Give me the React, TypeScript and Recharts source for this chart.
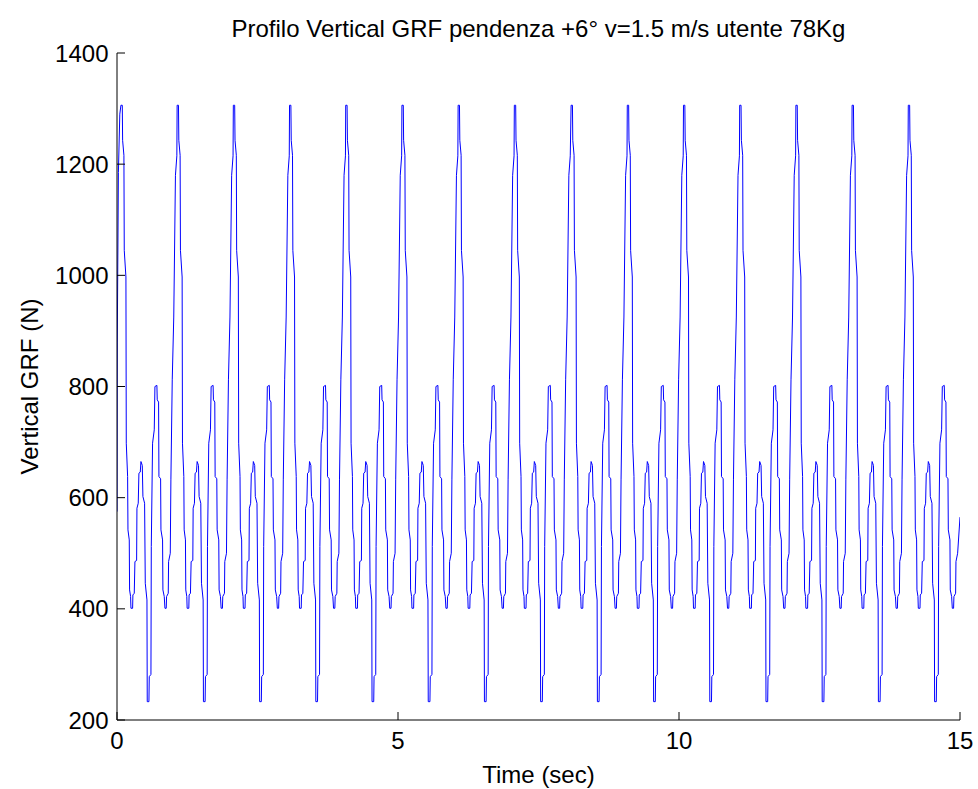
import React from 'react';
import { Line, LineChart, XAxis, YAxis } from 'recharts';

// one stride: seconds after the heel-strike peak, force (N)
const strideOffset = [
    0.0, 0.024, 0.03, 0.053, 0.059, 0.089, 0.095, 0.119, 0.125, 0.148,
    0.154, 0.172, 0.178, 0.208, 0.213, 0.237, 0.249, 0.279, 0.285, 0.308,
    0.32, 0.344, 0.356, 0.38, 0.391, 0.421, 0.433, 0.463, 0.468, 0.498,
    0.504, 0.534, 0.54, 0.563, 0.593, 0.605, 0.64, 0.646, 0.67, 0.676,
    0.706, 0.712, 0.741, 0.747, 0.771, 0.783, 0.806, 0.812, 0.842, 0.848,
    0.878, 0.889, 0.913, 0.94, 0.97, 0.995,
];
const strideForce = [
    1306, 1306, 1243, 1216, 1045, 997, 698, 638, 542, 524,
    434, 422, 401, 401, 425, 428, 485, 487, 581, 590,
    644, 646, 665, 658, 602, 590, 446, 416, 233, 233,
    278, 282, 512, 698, 722, 800, 802, 776, 772, 638,
    634, 542, 524, 434, 422, 401, 401, 422, 428, 485,
    500, 632, 812, 925, 1180, 1215,
];

// time of each tall peak
const strideStart = [0.07, 1.07, 2.07, 3.07, 4.07, 5.07, 6.07, 7.07, 8.08, 9.08, 10.08, 11.08, 12.08, 13.08, 14.08];

// partial stride before the first peak and after the last one
const leadTime = [0, 0.005, 0.025, 0.05];
const leadForce = [575, 880, 1185, 1290];
const tailTime = [15];
const tailForce = [565];

const xTicks = [0, 5, 10, 15];
const yTicks = [200, 400, 600, 800, 1000, 1200, 1400];

const FONT = '"Liberation Sans", Arial, Helvetica, sans-serif';
const FS = 24;
const TM = 8; // tick margin
const TL = 8; // inward tick length

const series: { t: number; f: number }[] = [];
leadTime.forEach((t, i) => series.push({ t, f: leadForce[i] }));
strideStart.forEach((s) => {
    strideOffset.forEach((o, i) => {
        const t = +(s + o).toFixed(3);
        if (t < 14.965) series.push({ t, f: strideForce[i] });
    });
});
tailTime.forEach((t, i) => series.push({ t, f: tailForce[i] }));

const BottomTick = ({ x, y, payload }: any) => {
    const y0 = y - TM;
    return (
        <g>
            <line x1={x} x2={x} y1={y0} y2={y0 - TL} stroke="#000" />
            <text x={x} y={y0 + 29} textAnchor="middle" fontSize={FS} fontFamily={FONT} fill="#000">
                {payload.value}
            </text>
        </g>
    );
};

const LeftTick = ({ x, y, payload }: any) => {
    const x0 = x + TM;
    return (
        <g>
            <line x1={x0} x2={x0 + TL} y1={y} y2={y} stroke="#000" />
            <text x={x0 - 8.5} y={y + 8.5} textAnchor="end" fontSize={FS} fontFamily={FONT} fill="#000">
                {payload.value}
            </text>
        </g>
    );
};

const TopTick = ({ x, y }: any) => {
    const y0 = y + TM;
    return <line x1={x} x2={x} y1={y0} y2={y0 + TL} stroke="#000" />;
};

const RightTick = ({ x, y }: any) => {
    const x0 = x - TM;
    return <line x1={x0} x2={x0 - TL} y1={y} y2={y} stroke="#000" />;
};

const App: React.FC = () => {
    return (
        <div style={{ position: 'absolute', left: 0, top: 0, width: 978, height: 789, background: '#fff' }}>
            <LineChart
                width={978}
                height={789}
                data={series}
                margin={{ top: 53, right: 18, bottom: 29, left: 57 }}
            >
                <XAxis
                    dataKey="t"
                    type="number"
                    domain={[0, 15]}
                    ticks={xTicks}
                    interval={0}
                    allowDataOverflow
                    height={40}
                    tickSize={0}
                    tickMargin={TM}
                    axisLine={{ stroke: '#000' }}
                    tickLine={false}
                    tick={<BottomTick />}
                />
                <XAxis
                    xAxisId="top"
                    orientation="top"
                    type="number"
                    domain={[0, 15]}
                    ticks={xTicks}
                    interval={0}
                    height={0}
                    tickSize={0}
                    tickMargin={TM}
                    axisLine={{ stroke: '#000' }}
                    tickLine={false}
                    tick={<TopTick />}
                />
                <YAxis
                    type="number"
                    domain={[200, 1400]}
                    ticks={yTicks}
                    interval={0}
                    allowDataOverflow
                    width={60}
                    tickSize={0}
                    tickMargin={TM}
                    axisLine={{ stroke: '#000' }}
                    tickLine={false}
                    tick={<LeftTick />}
                />
                <YAxis
                    yAxisId="right"
                    orientation="right"
                    type="number"
                    domain={[200, 1400]}
                    ticks={yTicks}
                    interval={0}
                    width={0}
                    tickSize={0}
                    tickMargin={TM}
                    axisLine={{ stroke: '#000' }}
                    tickLine={false}
                    tick={<RightTick />}
                />
                <Line
                    type="linear"
                    dataKey="f"
                    stroke="#0000FF"
                    strokeWidth={1}
                    dot={false}
                    activeDot={false}
                    isAnimationActive={false}
                />
            </LineChart>
            <svg
                width={978}
                height={789}
                style={{ position: 'absolute', left: 0, top: 0, pointerEvents: 'none' }}
            >
                <text x={538.5} y={37} textAnchor="middle" fontSize={FS} fontFamily={FONT} fill="#000">
                    Profilo Vertical GRF pendenza +6° v=1.5 m/s utente 78Kg
                </text>
                <text x={538.5} y={783} textAnchor="middle" fontSize={FS} fontFamily={FONT} fill="#000">
                    Time (sec)
                </text>
                <text
                    x={0}
                    y={0}
                    transform="translate(38, 386.5) rotate(-90)"
                    textAnchor="middle"
                    fontSize={FS}
                    fontFamily={FONT}
                    fill="#000"
                >
                    Vertical GRF (N)
                </text>
            </svg>
        </div>
    );
};

export default App;
